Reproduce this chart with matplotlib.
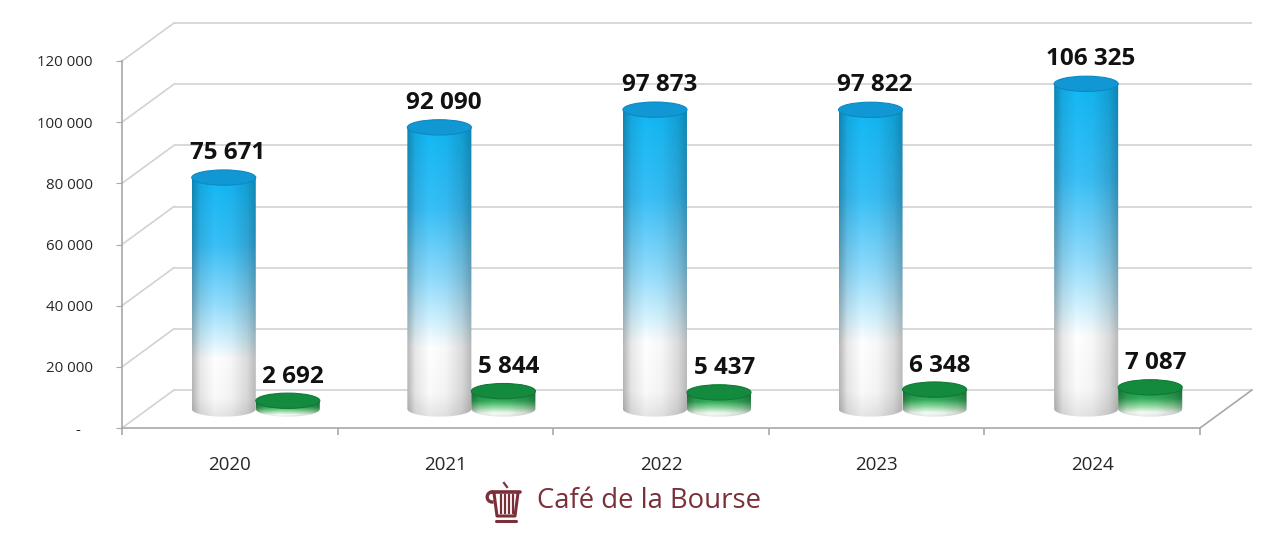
import numpy as np
import matplotlib
matplotlib.use('Agg')
import matplotlib.pyplot as plt
from matplotlib.patches import Ellipse, Polygon
from matplotlib.ticker import FixedLocator

# ---------------- data ----------------
years = ['2020', '2021', '2022', '2023', '2024']
series_blue = [75671, 92090, 97873, 97822, 106325]
series_green = [2692, 5844, 5437, 6348, 7087]
y_ticks = [0, 20000, 40000, 60000, 80000, 100000, 120000]
y_tick_labels = ['-   ', '20 000', '40 000', '60 000', '80 000', '100 000', '120 000']
brand = 'Café de la Bourse'


def fmt(v):
    return f"{v:,}".replace(',', ' ')


FONT = ['Open Sans', 'DejaVu Sans']
plt.rcParams['font.family'] = FONT

fig = plt.figure(figsize=(12.8, 5.33), dpi=100)
fig.patch.set_facecolor('white')
ax = fig.add_axes([122 / 1280, 105 / 533, 1078 / 1280, 367 / 533])
ax.set_facecolor('none')

YMAX = 120000
XMIN, XMAX = -0.5, len(years) - 0.5
DX = 0.241          # depth offset (category units)
DY = 12425          # depth offset (value units)
W = 0.297           # bar width
EH = 5000           # ellipse height (value units)

GRID = '#D2D2D2'
AXC = '#A8A8A8'

# back wall gridlines + left side wall diagonals
for yv in y_ticks:
    ax.plot([XMIN + DX, XMAX + DX], [yv + DY, yv + DY], color=GRID, lw=1.2,
            clip_on=False, zorder=1, solid_capstyle='butt')
    ax.plot([XMIN, XMIN + DX], [yv, yv + DY], color=GRID, lw=1.2,
            clip_on=False, zorder=1)
# floor right edge
ax.plot([XMAX, XMAX + DX], [0, DY], color=AXC, lw=1.2, clip_on=False, zorder=1)

blue_stops = [(0.0, (0.90, 0.90, 0.90)), (0.08, (0.98, 0.98, 0.98)),
              (0.24, (1.0, 1.0, 1.0)), (0.33, (0.82, 0.95, 1.0)),
              (0.48, (0.56, 0.86, 0.99)), (0.72, (0.22, 0.75, 0.97)),
              (1.0, (0.07, 0.72, 0.96))]
green_stops = [(0.0, (0.90, 0.91, 0.90)), (0.15, (0.97, 0.99, 0.97)),
               (0.38, (0.55, 0.85, 0.62)), (0.62, (0.20, 0.68, 0.36)),
               (1.0, (0.10, 0.58, 0.27))]
shade_u = [-1, -0.75, -0.3, 0.2, 0.7, 1]
shade_f = [0.72, 0.91, 1.0, 0.97, 0.86, 0.72]


def cylinder(xc, base, top, stops, top_color, edge_color, z):
    x0, x1 = xc - W / 2, xc + W / 2
    ny, nx = 300, 120
    v = np.linspace(0, 1, ny)
    u = np.linspace(-1, 1, nx)
    pos = [s[0] for s in stops]
    cols = np.array([s[1] for s in stops])
    rgb = np.stack([np.interp(v, pos, cols[:, k]) for k in range(3)], axis=-1)
    shade = np.interp(u, shade_u, shade_f)
    img = np.clip(rgb[:, None, :] * shade[None, :, None], 0, 1)
    im = ax.imshow(img, extent=[x0, x1, base - EH / 2, top], origin='lower',
                   aspect='auto', zorder=z, interpolation='bilinear')
    t = np.linspace(np.pi, 2 * np.pi, 80)
    verts = list(zip(xc + W / 2 * np.cos(t), base + EH / 2 * np.sin(t)))
    verts += [(x1, top), (x0, top)]
    clip = Polygon(verts, closed=True, transform=ax.transData)
    im.set_clip_path(clip)
    im.set_clip_on(True)
    ell = Ellipse((xc, top), W, EH, facecolor=top_color, edgecolor=edge_color,
                  lw=0.8, zorder=z + 0.5, clip_on=False)
    ax.add_patch(ell)


for i, (yr, vb, vg) in enumerate(zip(years, series_blue, series_green)):
    cx = i + DX / 2
    base = DY / 2
    xb = cx - W / 2
    xg = cx + W / 2
    cylinder(xb, base, base + vb, blue_stops, '#1197D4', '#0D88C3', 3)
    cylinder(xg, base, base + vg, green_stops, '#138A3D', '#107A35', 5)
    ax.annotate(fmt(vb), xy=(xb, base + vb + EH / 2), xytext=(3, 8),
                textcoords='offset points', ha='center', va='baseline',
                fontsize=17.5, fontweight='bold', color='#111111', zorder=10,
                annotation_clip=False)
    ax.annotate(fmt(vg), xy=(xg, base + vg + EH / 2), xytext=(4, 7.5),
                textcoords='offset points', ha='center', va='baseline',
                fontsize=17.5, fontweight='bold', color='#111111', zorder=10,
                annotation_clip=False)

ax.set_xlim(XMIN, XMAX)
ax.set_ylim(0, YMAX)

for s in ['top', 'right']:
    ax.spines[s].set_visible(False)
for s in ['left', 'bottom']:
    ax.spines[s].set_color(AXC)
    ax.spines[s].set_linewidth(1.2)
    ax.spines[s].set_zorder(2)

ax.set_yticks(y_ticks)
ax.set_yticklabels(y_tick_labels)
ax.tick_params(axis='y', length=4, color=AXC, pad=17, labelsize=10.8,
               labelcolor='#262626')
ax.set_xticks(range(len(years)))
ax.set_xticklabels(years)
ax.tick_params(axis='x', which='major', length=0, pad=20, labelsize=13.5,
               labelcolor='#262626')
ax.xaxis.set_minor_locator(FixedLocator(np.arange(XMIN, XMAX + 0.01, 1.0)))
ax.tick_params(axis='x', which='minor', length=5, color=AXC, width=1.2)

# ---------------- brand ----------------
fig.text(649 / 1280, 1 - 501 / 533, brand, color='#7A3038', fontsize=19.8,
         ha='center', va='center', family=['Open Sans', 'DejaVu Sans'])
lax = fig.add_axes([480 / 1280, 1 - 524 / 533, 46 / 1280, 44 / 533])
lax.set_xlim(0, 46)
lax.set_ylim(44, 0)
lax.axis('off')
LC = '#7A3038'
lax.plot([12, 40], [12, 12], color=LC, lw=2.6, solid_capstyle='round')
lax.plot([14, 17, 35, 38], [13, 36, 36, 13], color=LC, lw=2.2)
for xx in [20.5, 24.5, 28.5, 32.5]:
    lax.plot([xx, xx], [15, 33], color=LC, lw=1.6)
lax.plot([16, 36], [41, 41], color=LC, lw=2.2, solid_capstyle='round')
tt = np.linspace(0.0, np.pi, 30)
lax.plot(12 - 6 * np.sin(tt) * 0.8, 12 + 5 * (1 - np.cos(tt)), color=LC, lw=2.4)
lax.plot([24, 27], [3, 7], color=LC, lw=1.6)

fig.savefig('out.png', dpi=100, facecolor='white')
